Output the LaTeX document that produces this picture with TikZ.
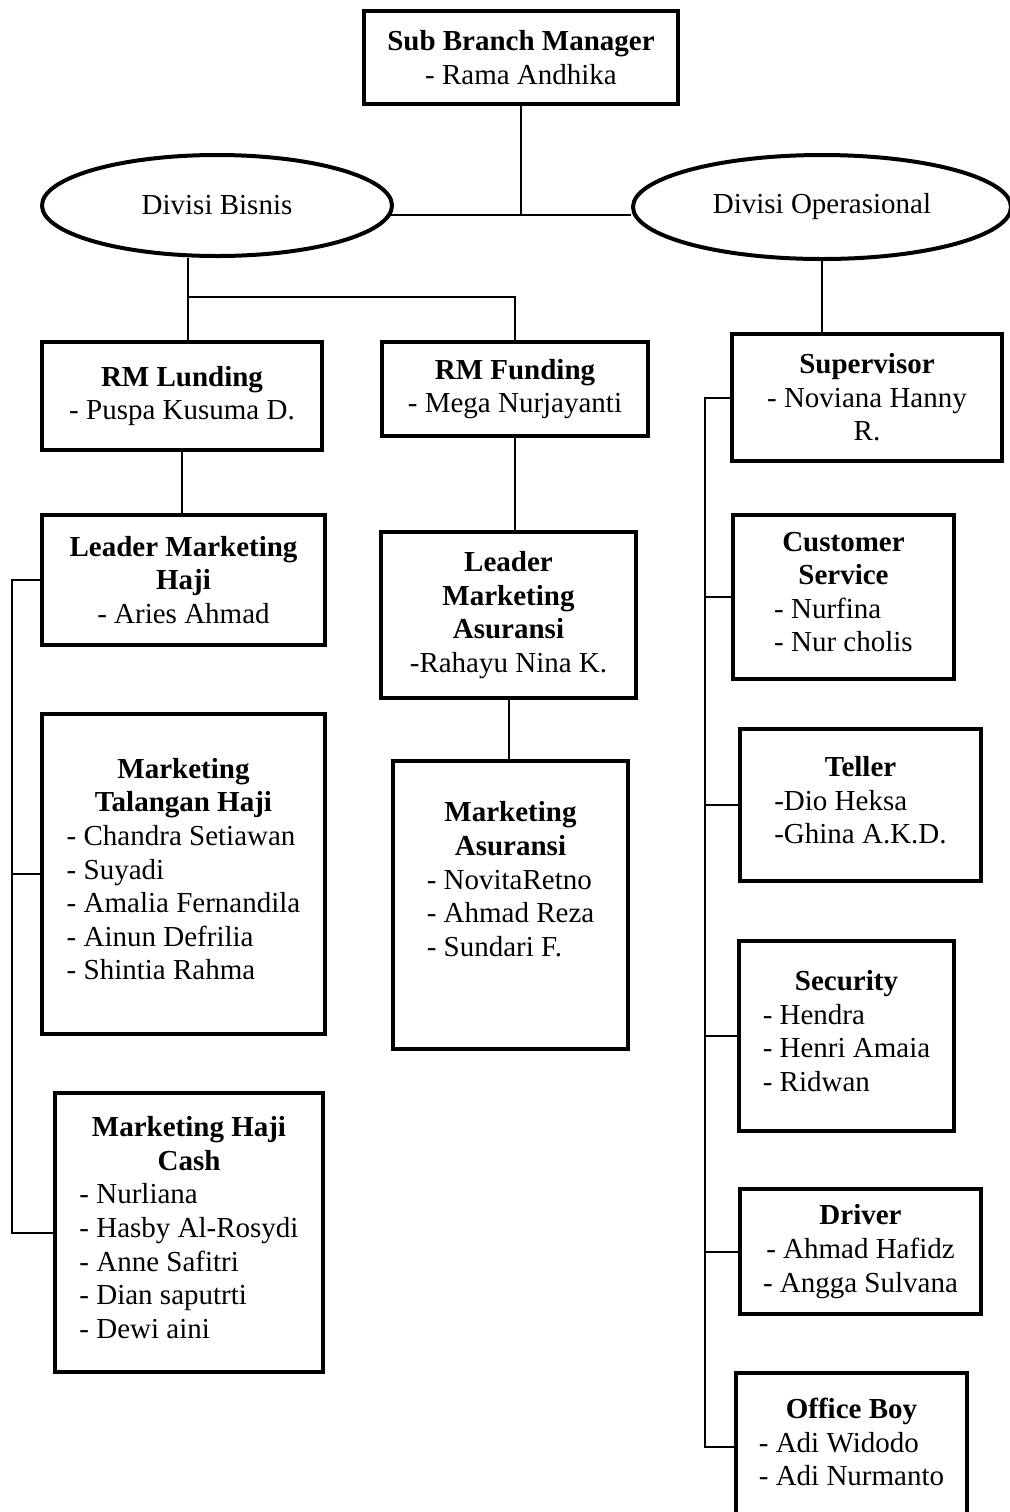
\documentclass[tikz,border=0pt]{standalone}
\usepackage{fontspec}
\setmainfont{Liberation Serif}
\usetikzlibrary{shapes.geometric}
\usetikzlibrary{positioning}

\newcommand{\names}[1]{\begin{tabular}[t]{@{}l@{}}#1\end{tabular}}

\begin{document}
\begin{tikzpicture}[x=0.5pt, y=-0.5pt,
    font=\fontsize{14.5}{16.8}\selectfont,
    box/.style={draw, rectangle, line width=2pt, align=center, inner sep=2pt},
    divisi/.style={draw, ellipse, line width=2pt, inner sep=0pt},
    link/.style={line width=1pt}]
            \useasboundingbox (0,0) rectangle (1009,1512);
            % Struktur organisasi
            \node[box, minimum width=157pt, minimum height=46.5pt] (sbm) at (521,57.5) {\textbf{Sub Branch Manager}\\- Rama Andhika};
            \node[divisi, minimum width=175pt, minimum height=50.5pt] (bisnis) at (217,205.5) {Divisi Bisnis};
            \node[divisi, minimum width=189pt, minimum height=52pt] (ops) at (822,207) {Divisi Operasional};

            % Divisi Bisnis
            \node[box, minimum width=140pt, minimum height=54pt] (rmL) at (182,396) {\textbf{RM Lunding}\\- Puspa Kusuma D.};
            \node[box, minimum width=133pt, minimum height=47pt] (rmF) at (515,389) {\textbf{RM Funding}\\- Mega Nurjayanti};
            \node[box, minimum width=141.5pt, minimum height=65pt] (lmh) at (183.5,580) {\textbf{Leader Marketing}\\\textbf{Haji}\\- Aries Ahmad};
            \node[box, minimum width=127.5pt, minimum height=83pt] (lma) at (508.5,615) {\textbf{Leader}\\\textbf{Marketing}\\\textbf{Asuransi}\\-Rahayu Nina K.};
            \node[box, minimum width=141.5pt, minimum height=160pt] (mth) at (183.5,874) {\textbf{Marketing}\\\textbf{Talangan Haji}\\\names{- Chandra Setiawan\\- Suyadi\\- Amalia Fernandila\\- Ainun Defrilia\\- Shintia Rahma}};
            \node[box, minimum width=117.5pt, minimum height=144pt] (ma) at (510.5,905) {\textbf{Marketing}\\\textbf{Asuransi}\\\names{- NovitaRetno\\- Ahmad Reza\\- Sundari F.\\[21pt]}};
            \node[box, minimum width=134pt, minimum height=139.5pt] (mhc) at (189,1232.5) {\textbf{Marketing Haji}\\\textbf{Cash}\\\names{- Nurliana\\- Hasby Al-Rosydi\\- Anne Safitri\\- Dian saputrti\\- Dewi aini}};

            % Divisi Operasional
            \node[box, minimum width=135pt, minimum height=63.5pt] (sup) at (867,397.5) {\textbf{Supervisor}\\- Noviana Hanny\\R.};
            \node[box, minimum width=110.5pt, minimum height=82pt] (cs) at (843.5,597) {\textbf{Customer}\\\textbf{Service}\\\names{- Nurfina\\- Nur cholis}};
            \node[box, minimum width=120.5pt, minimum height=76pt] (tel) at (860.5,805) {\textbf{Teller}\\\names{-Dio Heksa\\-Ghina A.K.D.}};
            \node[box, minimum width=107.5pt, minimum height=95pt] (sec) at (846.5,1036) {\textbf{Security}\\\names{- Hendra\\- Henri Amaia\\- Ridwan}};
            \node[box, minimum width=120.5pt, minimum height=62.5pt] (drv) at (860.5,1251.5) {\textbf{Driver}\\- Ahmad Hafidz\\- Angga Sulvana};
            \node[box, minimum width=115.5pt, minimum height=74pt] (ob) at (851.5,1447) {\textbf{Office Boy}\\\names{- Adi Widodo\\- Adi Nurmanto}};

            \coordinate (bsplit) at (188,297);
            \coordinate (lbus) at (12,0);
            \coordinate (rbus) at (705,0);

            \draw[link] (sbm.south) -- (sbm.south |- bisnis.-3);
            \draw[link] (bisnis.-3) -- (bisnis.-3 -| ops.west);
            \draw[link] (bisnis.south -| bsplit) -- (bsplit) -| (rmF.north);
            \draw[link] (bsplit) -- (rmL.north -| bsplit);
            \draw[link] (rmL.south) -- (rmL.south |- lmh.north);
            \draw[link] (rmF.south) -- (rmF.south |- lma.north);
            \draw[link] (lma.south) -- (lma.south |- ma.north);
            \draw[link] (lmh.west) -| (lbus |- mhc.west) -- (mhc.west);
            \draw[link] (mth.west) -- (lbus |- mth.west);

            \draw[link] (ops.south) -- (ops.south |- sup.north);
            \draw[link] (sup.west) -| (rbus |- ob.west) -- (ob.west);
            \foreach \n in {cs,tel,sec,drv}
                \draw[link] (\n.west) -- (rbus |- \n.west);
        \end{tikzpicture}
\end{document}
